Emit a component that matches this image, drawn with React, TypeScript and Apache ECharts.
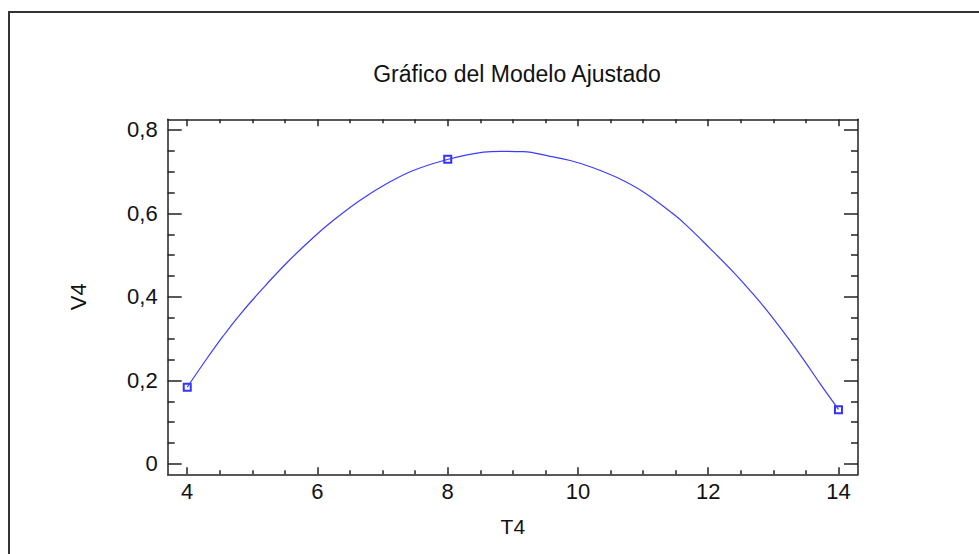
import React, { useEffect, useRef } from "react";
import * as echarts from "echarts";

const titleText = "Gráfico del Modelo Ajustado";
const xName = "T4";
const yName = "V4";

// fitted model curve
const modelX = [4.0, 4.3, 4.55, 4.81, 5.14, 5.53, 5.94, 6.24, 6.65, 7.06, 7.47, 8.01, 8.55, 8.81, 9.16, 9.57, 9.88, 10.19, 10.6, 11.01, 11.47, 11.67, 12.03, 12.39, 12.65, 12.9, 13.21, 13.47, 13.72, 14.0];
const modelY = [0.184, 0.252, 0.306, 0.358, 0.417, 0.482, 0.543, 0.583, 0.631, 0.671, 0.703, 0.73, 0.747, 0.749, 0.748, 0.737, 0.727, 0.712, 0.686, 0.651, 0.598, 0.571, 0.516, 0.459, 0.414, 0.368, 0.305, 0.249, 0.192, 0.131];

// observed points
const obsX = [4, 8, 14];
const obsY = [0.184, 0.73, 0.13];

// ticks
const xMajor = [4, 6, 8, 10, 12, 14];
const xMinor = [4.5, 5, 5.5, 6.5, 7, 7.5, 8.5, 9, 9.5, 10.5, 11, 11.5, 12.5, 13, 13.5];
const yMajor = [0, 0.2, 0.4, 0.6, 0.8];
const yMinor = [0.05, 0.1, 0.15, 0.25, 0.3, 0.35, 0.45, 0.5, 0.55, 0.65, 0.7, 0.75];

const X_MIN = 3.7;
const X_MAX = 14.3;
const Y_MIN = -0.0247;
const Y_MAX = 0.8256;

const FONT = "'Liberation Sans', Arial, sans-serif";
const AXIS_COLOR = "#222";

export default function App() {
  const ref = useRef<HTMLDivElement>(null);

  useEffect(() => {
    if (!ref.current) return;
    const chart = echarts.init(ref.current, undefined, { renderer: "svg" });

    const baseX = (position: string, ticks: number[], len: number, showLine: boolean, labels: boolean, name?: string) => ({
      type: "value",
      position,
      min: X_MIN,
      max: X_MAX,
      gridIndex: 0,
      name: name || "",
      nameLocation: "middle",
      nameGap: 42,
      nameTextStyle: { fontFamily: FONT, fontSize: 21, color: "#111" },
      axisLine: { show: showLine, onZero: false, lineStyle: { color: AXIS_COLOR, width: 1.5 } },
      axisTick: { show: true, inside: true, length: len, customValues: ticks, lineStyle: { color: AXIS_COLOR, width: 1.5 } },
      axisLabel: {
        show: labels,
        customValues: ticks,
        margin: 6,
        fontFamily: FONT,
        fontSize: 22,
        color: "#111",
        formatter: (v: number) => String(v),
      },
      splitLine: { show: false },
    });

    const baseY = (position: string, ticks: number[], len: number, showLine: boolean, labels: boolean, name?: string) => ({
      type: "value",
      position,
      min: Y_MIN,
      max: Y_MAX,
      gridIndex: 0,
      name: name || "",
      nameLocation: "middle",
      nameGap: 78,
      nameTextStyle: { fontFamily: FONT, fontSize: 22, color: "#111" },
      axisLine: { show: showLine, onZero: false, lineStyle: { color: AXIS_COLOR, width: 1.5 } },
      axisTick: { show: true, inside: true, length: len, customValues: ticks, lineStyle: { color: AXIS_COLOR, width: 1.5 } },
      axisLabel: {
        show: labels,
        customValues: ticks,
        margin: 10,
        fontFamily: FONT,
        fontSize: 22,
        color: "#111",
        formatter: (v: number) => String(Math.round(v * 10) / 10).replace(".", ","),
      },
      splitLine: { show: false },
    });

    chart.setOption({
      animation: false,
      backgroundColor: "#fff",
      title: {
        text: titleText,
        left: 512,
        top: 57,
        textAlign: "center",
        textStyle: { fontFamily: FONT, fontSize: 23, fontWeight: "normal", color: "#111" },
      },
      graphic: [
        {
          type: "rect",
          shape: { x: 9, y: 12, width: 1000, height: 600 },
          style: { fill: "none", stroke: "#333", lineWidth: 2 },
          silent: true,
        },
      ],
      grid: { left: 167.7, top: 119.3, right: 121, bottom: 79.7, containLabel: false },
      xAxis: [
        baseX("bottom", xMajor, 7, true, true, xName),
        baseX("top", xMajor, 7, true, false),
        baseX("bottom", xMinor, 4, false, false),
        baseX("top", xMinor, 4, false, false),
      ],
      yAxis: [
        baseY("left", yMajor, 14, true, true, yName),
        baseY("right", yMajor, 14, true, false),
        baseY("left", yMinor, 7, false, false),
        baseY("right", yMinor, 7, false, false),
      ],
      series: [
        {
          type: "line",
          xAxisIndex: 0,
          yAxisIndex: 0,
          data: modelX.map((x, i) => [x, modelY[i]]),
          smooth: 0.4,
          showSymbol: false,
          lineStyle: { color: "#3c3cff", width: 1.2 },
          silent: true,
        },
        {
          type: "scatter",
          xAxisIndex: 0,
          yAxisIndex: 0,
          data: obsX.map((x, i) => [x, obsY[i]]),
          symbol: "emptyRect",
          symbolSize: 7,
          itemStyle: { color: "#0000ff", borderWidth: 1.2 },
          silent: true,
        },
      ],
    });

    return () => chart.dispose();
  }, []);

  return (
    <div
      ref={ref}
      style={{ position: "fixed", left: 0, top: 0, width: 979, height: 554, background: "#fff" }}
    />
  );
}
